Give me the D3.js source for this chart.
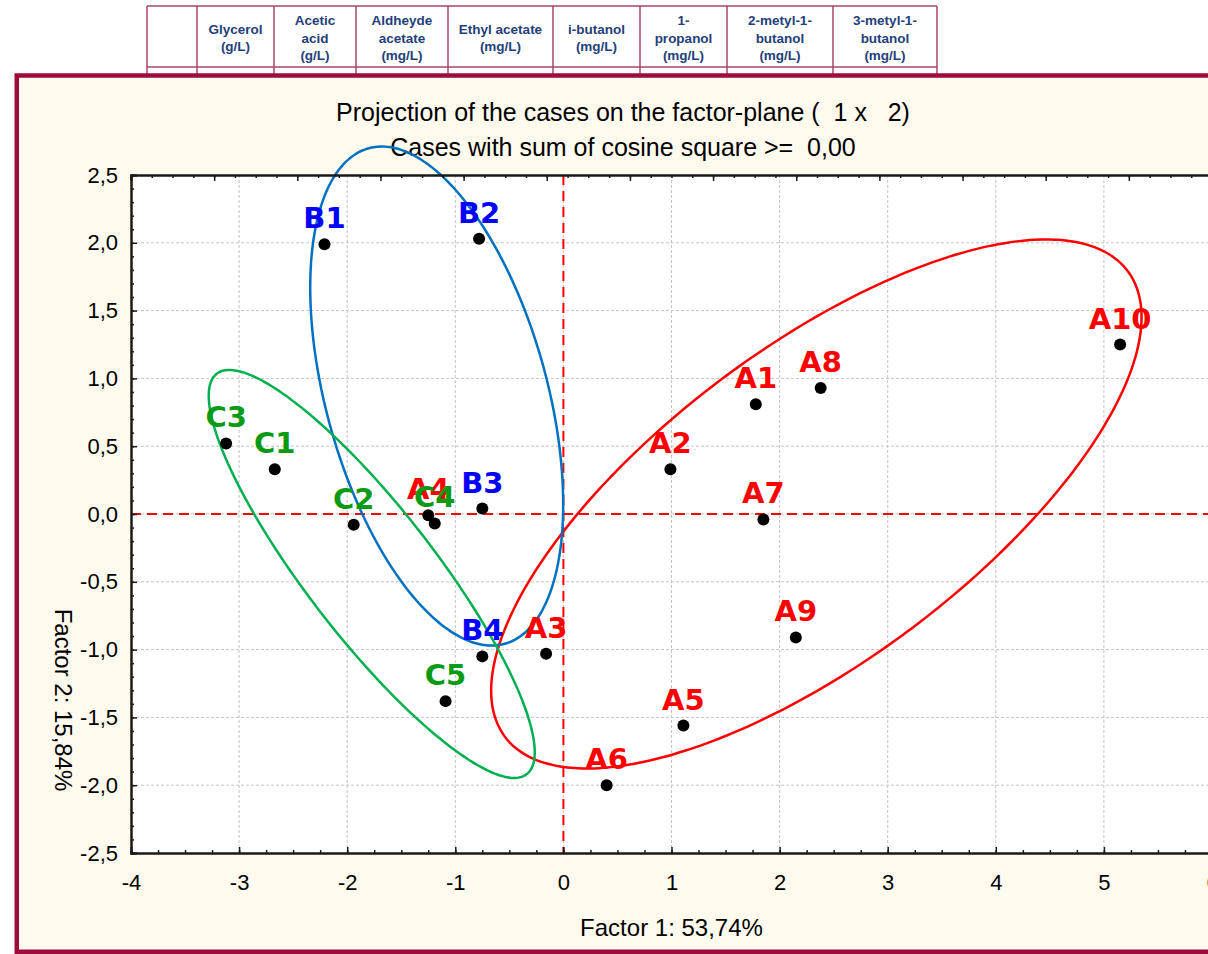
<!DOCTYPE html>
<html>
<head>
<meta charset="utf-8">
<script src="https://cdn.jsdelivr.net/npm/d3@7"></script>
<style>
  body { margin: 0; background: #fff; overflow: hidden; }
  text { font-family: "Liberation Sans", Arial, sans-serif; }
</style>
</head>
<body>
<div id="chart"></div>
<script>

// cases and their scores on factor 1 / factor 2
let caseNames = ["A1", "A2", "A3", "A4", "A5", "A6", "A7", "A8", "A9", "A10",
                 "B1", "B2", "B3", "B4",
                 "C1", "C2", "C3", "C4", "C5"];
let factor1 = [1.78, 0.99, -0.16, -1.25, 1.11, 0.40, 1.85, 2.38, 2.15, 5.15,
               -2.21, -0.78, -0.75, -0.75,
               -2.67, -1.94, -3.12, -1.19, -1.09];
let factor2 = [0.81, 0.33, -1.03, -0.01, -1.56, -2.00, -0.04, 0.93, -0.91, 1.25,
               1.99, 2.03, 0.04, -1.05,
               0.33, -0.08, 0.52, -0.07, -1.38];
let caseGroup = ["A", "A", "A", "A", "A", "A", "A", "A", "A", "A",
                 "B", "B", "B", "B",
                 "C", "C", "C", "C", "C"];

// group ellipses (centre + spread, in factor units)
let ellipseGroup = ["A", "B", "C"];
let ellipseCx = [2.34, -1.172, -1.773];
let ellipseCy = [0.074, 0.870, -0.442];
let ellipseSxx = [9.05, 1.369, 2.274];
let ellipseSyy = [3.805, 3.386, 2.263];
let ellipseSxy = [4.143, -0.935, -1.982];

// axis ticks
let xTicks = [-4, -3, -2, -1, 0, 1, 2, 3, 4, 5, 6];
let yTicks = [-2.5, -2, -1.5, -1, -0.5, 0, 0.5, 1, 1.5, 2, 2.5];

// table header above the chart
let tableHeaders = [
  [],
  ["Glycerol", "(g/L)"],
  ["Acetic", "acid", "(g/L)"],
  ["Aldheyde", "acetate", "(mg/L)"],
  ["Ethyl acetate", "(mg/L)"],
  ["i-butanol", "(mg/L)"],
  ["1-", "propanol", "(mg/L)"],
  ["2-metyl-1-", "butanol", "(mg/L)"],
  ["3-metyl-1-", "butanol", "(mg/L)"]
];

let titleLine1 = "Projection of the cases on the factor-plane (  1 x   2)";
let titleLine2 = "Cases with sum of cosine square >=  0,00";
let xTitle = "Factor 1: 53,74%";
let yTitle = "Factor 2: 15,84%";

////////////////////////////
//// Layout and colours ////
////////////////////////////

let width = 1208, height = 954;
let plot = { left: 131, top: 175, right: 1212, bottom: 853 };
let columnEdges = [147, 197, 274, 356, 448, 553, 640, 727, 833, 937];

let groupColor = { A: "#ff0000", B: "#0000ff", C: "#0a9a14" };
let ellipseColor = { A: "#ff0000", B: "#0070c0", C: "#00b050" };
let frameColor = "#9e0b3c";

let locale = d3.formatLocale({ decimal: ",", thousands: ".", grouping: [3], currency: ["", ""], minus: "-" });
let fmt1 = locale.format(".1f");
let fmt0 = locale.format("d");

let svg = d3.select("#chart")
  .append("svg")
  .attr("width", width)
  .attr("height", height);

// header table
let table = svg.append("g").attr("class", "table");

table.append("line")
  .attr("x1", columnEdges[0]).attr("x2", columnEdges[columnEdges.length - 1])
  .attr("y1", 6).attr("y2", 6)
  .attr("stroke", "#a8456a").attr("stroke-width", 1.5);
table.append("line")
  .attr("x1", columnEdges[0]).attr("x2", columnEdges[columnEdges.length - 1])
  .attr("y1", 67).attr("y2", 67)
  .attr("stroke", "#a8456a").attr("stroke-width", 1.5);
table.selectAll(".col-line")
  .data(columnEdges)
  .join("line")
  .attr("class", "col-line")
  .attr("x1", d => d).attr("x2", d => d)
  .attr("y1", 6).attr("y2", 76)
  .attr("stroke", "#a8456a").attr("stroke-width", 1.5);

tableHeaders.forEach(function(lines, i) {
  let cx = (columnEdges[i] + columnEdges[i + 1]) / 2;
  let lh = 17.5;
  let y0 = 38 - (lines.length - 1) * lh / 2;
  lines.forEach(function(t, j) {
    table.append("text")
      .attr("x", cx)
      .attr("y", y0 + j * lh)
      .attr("dy", "0.35em")
      .attr("text-anchor", "middle")
      .attr("font-size", 13.5)
      .attr("font-weight", "bold")
      .attr("fill", "#24407a")
      .text(t);
  });
});

// outer frame
svg.append("rect")
  .attr("x", 16.75).attr("y", 75.5)
  .attr("width", 1300).attr("height", 876.25)
  .attr("fill", "#fffaee")
  .attr("stroke", frameColor)
  .attr("stroke-width", 4.5);

// titles
svg.append("text")
  .attr("x", 623).attr("y", 112)
  .attr("dy", "0.35em")
  .attr("text-anchor", "middle")
  .attr("font-size", 25)
  .style("white-space", "pre")
  .text(titleLine1);
svg.append("text")
  .attr("x", 623).attr("y", 147)
  .attr("dy", "0.35em")
  .attr("text-anchor", "middle")
  .attr("font-size", 25)
  .style("white-space", "pre")
  .text(titleLine2);

///////////////////////////////
//// Scales and the plot  /////
///////////////////////////////

let xScale = d3.scaleLinear().domain([-4, 6]).range([plot.left, plot.right]);
let yScale = d3.scaleLinear().domain([-2.5, 2.5]).range([plot.bottom, plot.top]);

svg.append("rect")
  .attr("x", plot.left).attr("y", plot.top)
  .attr("width", plot.right - plot.left).attr("height", plot.bottom - plot.top)
  .attr("fill", "#fff");

// grid
let grid = svg.append("g").attr("class", "grid");
grid.selectAll(".gx")
  .data(xTicks.slice(1, -1))
  .join("line")
  .attr("x1", d => xScale(d)).attr("x2", d => xScale(d))
  .attr("y1", plot.top).attr("y2", plot.bottom)
  .attr("stroke", "#c4c4c4").attr("stroke-dasharray", "3,2");
grid.selectAll(".gy")
  .data(yTicks.slice(1, -1))
  .join("line")
  .attr("x1", plot.left).attr("x2", plot.right)
  .attr("y1", d => yScale(d)).attr("y2", d => yScale(d))
  .attr("stroke", "#c4c4c4").attr("stroke-dasharray", "3,2");

// zero cross lines
svg.append("line")
  .attr("x1", xScale(0)).attr("x2", xScale(0))
  .attr("y1", plot.top).attr("y2", plot.bottom)
  .attr("stroke", "#ff0000").attr("stroke-width", 2).attr("stroke-dasharray", "10,6");
svg.append("line")
  .attr("x1", plot.left).attr("x2", plot.right)
  .attr("y1", yScale(0)).attr("y2", yScale(0))
  .attr("stroke", "#ff0000").attr("stroke-width", 2).attr("stroke-dasharray", "10,6");

// ellipses
let ellipses = ellipseGroup.map(function(g, i) {
  let l11 = Math.sqrt(ellipseSxx[i]);
  let l21 = ellipseSxy[i] / l11;
  let l22 = Math.sqrt(ellipseSyy[i] - l21 * l21);
  return {
    group: g,
    pts: d3.range(0, 360, 2).map(function(deg) {
      let t = deg * Math.PI / 180;
      let c = Math.cos(t), s = Math.sin(t);
      return [ellipseCx[i] + l11 * c, ellipseCy[i] + l21 * c + l22 * s];
    })
  };
});

let ellipseLine = d3.line()
  .x(d => xScale(d[0]))
  .y(d => yScale(d[1]))
  .curve(d3.curveCardinalClosed);

svg.append("g").attr("class", "ellipses")
  .selectAll("path")
  .data(ellipses)
  .join("path")
  .attr("d", d => ellipseLine(d.pts))
  .attr("fill", "none")
  .attr("stroke", d => ellipseColor[d.group])
  .attr("stroke-width", 2.5);

// points
let cases = caseNames.map((n, i) => ({ name: n, f1: factor1[i], f2: factor2[i], group: caseGroup[i] }));

svg.append("g").attr("class", "points")
  .selectAll("circle")
  .data(cases)
  .join("circle")
  .attr("cx", d => xScale(d.f1))
  .attr("cy", d => yScale(d.f2))
  .attr("r", 6)
  .attr("fill", "#000");

svg.append("g").attr("class", "case-labels")
  .selectAll("text")
  .data(cases)
  .join("text")
  .attr("x", d => xScale(d.f1))
  .attr("y", d => yScale(d.f2) - 16)
  .attr("text-anchor", "middle")
  .attr("font-size", 29)
  .attr("font-weight", "bold")
  .style("font-family", "'Comic Sans MS', 'DejaVu Sans', sans-serif")
  .attr("fill", d => groupColor[d.group])
  .text(d => d.name);

// axes
let xAxis = d3.axisBottom(xScale)
  .tickValues(xTicks)
  .tickFormat(fmt0)
  .tickSize(-6)
  .tickPadding(21);
let xMinor = d3.axisBottom(xScale)
  .tickValues(d3.range(-4, 6.001, 0.25))
  .tickFormat("")
  .tickSize(-3);

let yAxis = d3.axisLeft(yScale)
  .tickValues(yTicks)
  .tickFormat(fmt1)
  .tickSize(-6)
  .tickPadding(13);
let yMinor = d3.axisLeft(yScale)
  .tickValues(d3.range(-2.5, 2.501, 0.1))
  .tickFormat("")
  .tickSize(-3);

// secondary top / right axes (only ticks)
let topScale = d3.scaleLinear().domain([0, 13]).range([plot.left, plot.right]);
let topAxis = d3.axisTop(topScale).ticks(13).tickFormat("").tickSize(-6);
let topMinor = d3.axisTop(topScale).tickValues(d3.range(0, 13.001, 0.25)).tickFormat("").tickSize(-3);
let rightScale = d3.scaleLinear().domain([0, 13]).range([plot.bottom, plot.top]);
let rightAxis = d3.axisRight(rightScale).ticks(13).tickFormat("").tickSize(-4);

svg.append("g").attr("transform", `translate(0,${plot.bottom})`).call(xMinor);
svg.append("g").attr("class", "x-axis").attr("transform", `translate(0,${plot.bottom})`).call(xAxis);
svg.append("g").attr("transform", `translate(${plot.left},0)`).call(yMinor);
svg.append("g").attr("class", "y-axis").attr("transform", `translate(${plot.left},0)`).call(yAxis);
svg.append("g").attr("transform", `translate(0,${plot.top})`).call(topMinor);
svg.append("g").attr("transform", `translate(0,${plot.top})`).call(topAxis);
svg.append("g").attr("transform", `translate(${plot.right},0)`).call(rightAxis);

svg.selectAll(".domain").attr("stroke", "#1a1a1a").attr("stroke-width", 2);
svg.selectAll(".tick line").attr("stroke", "#1a1a1a").attr("stroke-width", 1.5);
svg.selectAll(".x-axis text, .y-axis text")
  .attr("font-size", 22)
  .attr("fill", "#000")
  .style("font-family", "'Liberation Sans', Arial, sans-serif");

// axis titles
svg.append("text")
  .attr("x", (plot.left + plot.right) / 2).attr("y", 928)
  .attr("dy", "0.35em")
  .attr("text-anchor", "middle")
  .attr("font-size", 24)
  .text(xTitle);
svg.append("text")
  .attr("transform", "translate(63,700) rotate(90)")
  .attr("dy", "0.35em")
  .attr("text-anchor", "middle")
  .attr("font-size", 24)
  .text(yTitle);

</script>
</body>
</html>
